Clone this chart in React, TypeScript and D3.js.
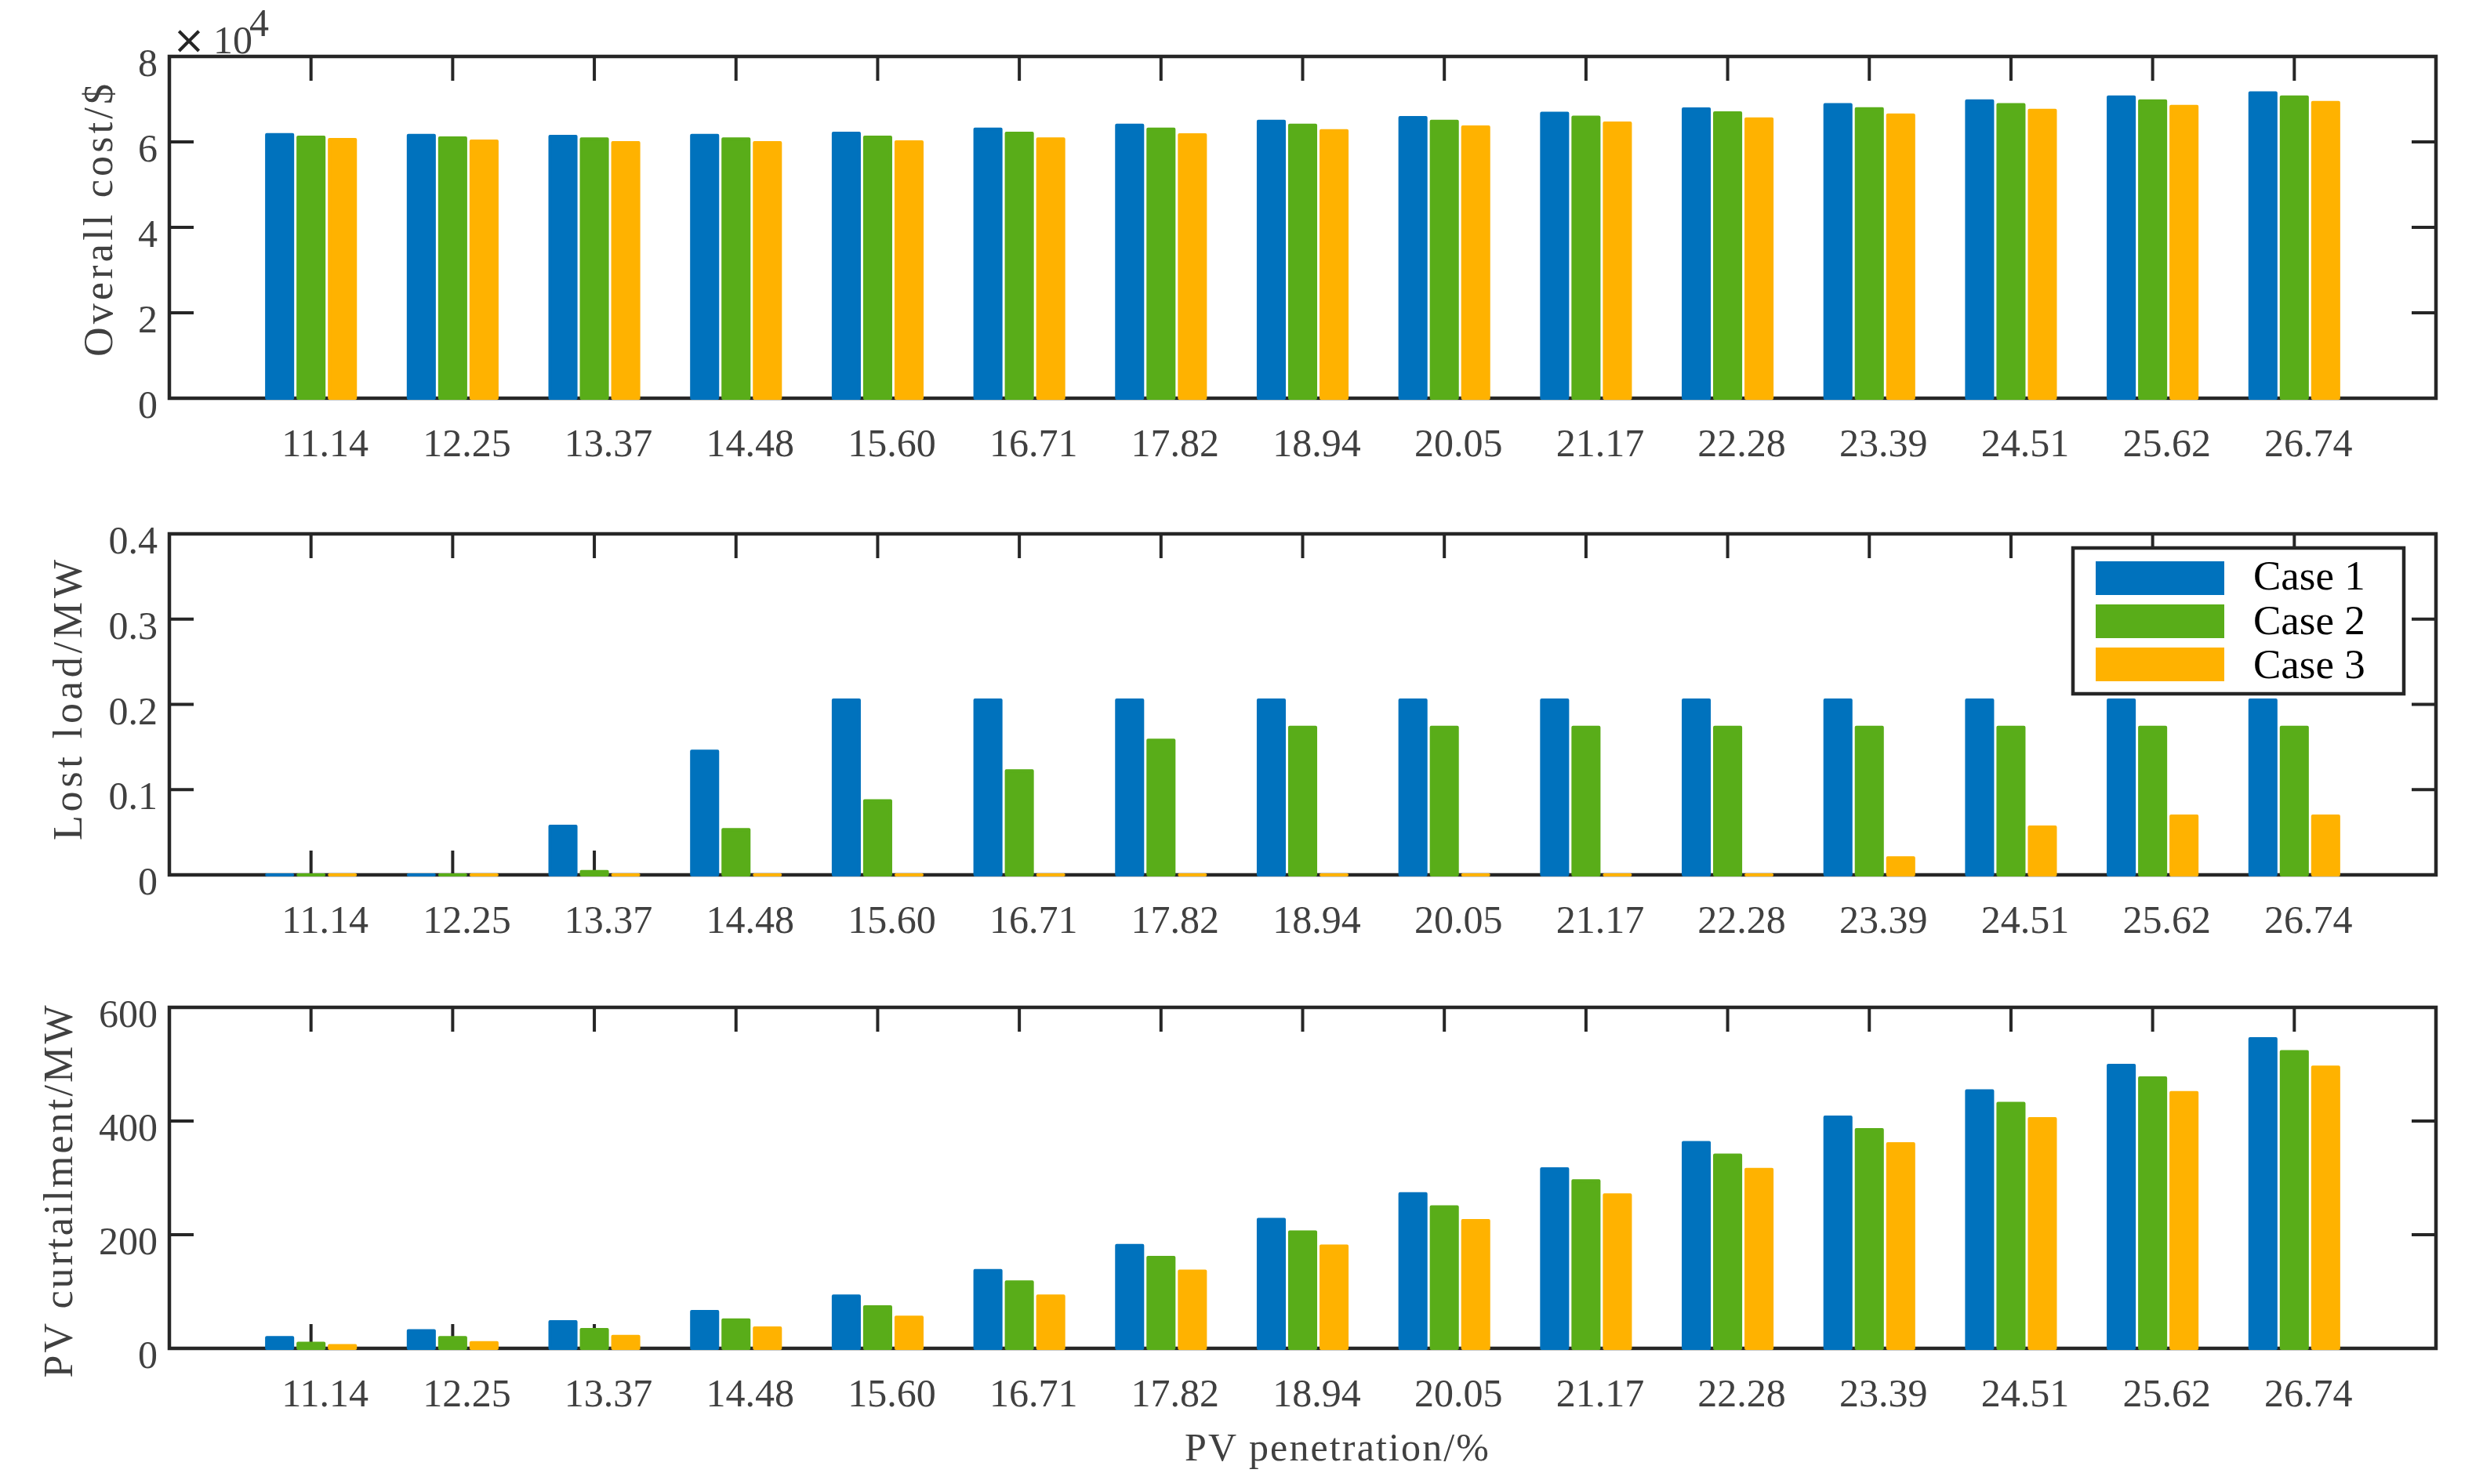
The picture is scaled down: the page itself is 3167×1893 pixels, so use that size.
import React from "react";
import * as d3 from "d3";

// ---------- data ----------
const categories = [
  "11.14", "12.25", "13.37", "14.48", "15.60", "16.71", "17.82", "18.94",
  "20.05", "21.17", "22.28", "23.39", "24.51", "25.62", "26.74",
];
const seriesNames = ["Case 1", "Case 2", "Case 3"];

// Overall cost ($)
const costCase1 = [61700, 61500, 61300, 61500, 62000, 63000, 63900, 64800, 65700, 66700, 67700, 68700, 69600, 70500, 71450];
const costCase2 = [61100, 60900, 60700, 60700, 61100, 62000, 63000, 63900, 64800, 65800, 66800, 67750, 68700, 69600, 70500];
const costCase3 = [60550, 60200, 59800, 59800, 60000, 60700, 61650, 62600, 63500, 64400, 65350, 66300, 67400, 68300, 69200];

// Lost load (MW)
const lostCase1 = [0, 0, 0.057, 0.145, 0.205, 0.205, 0.205, 0.205, 0.205, 0.205, 0.205, 0.205, 0.205, 0.205, 0.205];
const lostCase2 = [0, 0, 0.004, 0.053, 0.087, 0.122, 0.158, 0.173, 0.173, 0.173, 0.173, 0.173, 0.173, 0.173, 0.173];
const lostCase3 = [0, 0, 0, 0, 0, 0, 0, 0, 0, 0, 0, 0.02, 0.056, 0.069, 0.069];

// PV curtailment (MW)
const curtCase1 = [19, 31, 47, 65, 92, 137, 181, 227, 272, 316, 362, 407, 453, 498, 545];
const curtCase2 = [9, 19, 33, 50, 73, 117, 160, 205, 249, 295, 340, 385, 431, 476, 522];
const curtCase3 = [5, 10, 21, 36, 55, 92, 136, 180, 225, 270, 315, 360, 404, 450, 495];

const costTicks = [0, 20000, 40000, 60000, 80000];
const lostTicks = [0, 0.1, 0.2, 0.3, 0.4];
const curtTicks = [0, 200, 400, 600];

// ---------- style / layout ----------
const W = 3167;
const H = 1893;
const colors = ["#0072BD", "#59AD19", "#FFB200"];
const axisColor = "#262626";
const textColor = "#404040";
const font = "'Liberation Serif', 'Times New Roman', serif";
const plotLeft = 216;
const plotRight = 3107;
const tickLen = 31;
const barPitch = 0.2215; // in category units
const barFill = 0.183; // in category units (stroke adds visible width)
const barStroke = 4;

const panels = [
  {
    series: [costCase1, costCase2, costCase3],
    yMax: 80000,
    ticks: costTicks,
    fmt: (v: number) => String(v / 10000),
    top: 72,
    bottom: 508,
    label: "Overall cost/$",
    labelX: 143,
    labelY: 281,
    labelLen: 348,
  },
  {
    series: [lostCase1, lostCase2, lostCase3],
    yMax: 0.4,
    ticks: lostTicks,
    fmt: (v: number) => (v === 0 ? "0" : String(v)),
    top: 681,
    bottom: 1116,
    label: "Lost load/MW",
    labelX: 104,
    labelY: 893,
    labelLen: 358,
  },
  {
    series: [curtCase1, curtCase2, curtCase3],
    yMax: 600,
    ticks: curtTicks,
    fmt: (v: number) => String(v),
    top: 1285,
    bottom: 1720,
    label: "PV curtailment/MW",
    labelX: 92,
    labelY: 1520,
    labelLen: 475,
  },
];

const x = d3.scaleLinear().domain([0, categories.length + 1]).range([plotLeft, plotRight]);
const unit = x(1) - x(0);

function Panel({ p }: { p: (typeof panels)[number] }) {
  const y = d3.scaleLinear().domain([0, p.yMax]).range([p.bottom, p.top]);
  const nS = p.series.length;
  return (
    <g>
      {/* ticks (drawn beneath bars) */}
      {categories.map((c, i) => {
        const cx = x(i + 1);
        return (
          <g key={"xt" + c} stroke={axisColor} strokeWidth={4}>
            <line x1={cx} x2={cx} y1={p.top} y2={p.top + tickLen} />
            <line x1={cx} x2={cx} y1={p.bottom} y2={p.bottom - tickLen} />
          </g>
        );
      })}
      {p.ticks.map((t) => (
        <g key={"yt" + t} stroke={axisColor} strokeWidth={4}>
          <line x1={plotLeft} x2={plotLeft + tickLen} y1={y(t)} y2={y(t)} />
          <line x1={plotRight} x2={plotRight - tickLen} y1={y(t)} y2={y(t)} />
        </g>
      ))}
      {/* box */}
      <rect
        x={plotLeft}
        y={p.top}
        width={plotRight - plotLeft}
        height={p.bottom - p.top}
        fill="none"
        stroke={axisColor}
        strokeWidth={4.5}
      />
      {/* bars */}
      {p.series.map((vals, s) =>
        vals.map((v, i) => {
          const cx = x(i + 1 + (s - (nS - 1) / 2) * barPitch);
          const hw = (barFill * unit) / 2;
          const path = d3.path();
          path.moveTo(cx - hw, y(0));
          path.lineTo(cx - hw, y(v));
          path.lineTo(cx + hw, y(v));
          path.lineTo(cx + hw, y(0));
          path.closePath();
          return (
            <path
              key={`b${s}-${i}`}
              d={path.toString()}
              fill={colors[s]}
              stroke={colors[s]}
              strokeWidth={barStroke}
              strokeLinejoin="round"
            />
          );
        })
      )}
      {/* x tick labels */}
      {categories.map((c, i) => (
        <text
          key={"xl" + c}
          x={x(i + 1) + 18}
          y={p.bottom + 74}
          textAnchor="middle"
          fontSize={50}
          fill={textColor}
          fontFamily={font}
        >
          {c}
        </text>
      ))}
      {/* y tick labels */}
      {p.ticks.map((t) => (
        <text
          key={"yl" + t}
          x={201}
          y={y(t) + 25}
          textAnchor="end"
          fontSize={50}
          fill={textColor}
          fontFamily={font}
        >
          {p.fmt(t)}
        </text>
      ))}
      {/* y label */}
      <text
        transform={`translate(${p.labelX},${p.labelY}) rotate(-90)`}
        textAnchor="middle"
        fontSize={52}
        fill={textColor}
        fontFamily={font}
        textLength={p.labelLen}
        lengthAdjust="spacing"
      >
        {p.label}
      </text>
    </g>
  );
}

export default function App() {
  return (
    <svg
      width={W}
      height={H}
      viewBox={`0 0 ${W} ${H}`}
      style={{ position: "absolute", left: 0, top: 0, background: "#fff" }}
    >
      <rect x={0} y={0} width={W} height={H} fill="#fff" />
      {panels.map((p, i) => (
        <Panel key={i} p={p} />
      ))}
      {/* exponent */}
      <text x={220} y={68} fontSize={50} fill={axisColor} fontFamily="'DejaVu Sans', sans-serif">
        ×
      </text>
      <text x={272} y={68} fontSize={50} fill={textColor} fontFamily={font}>
        10
      </text>
      <text x={318} y={46} fontSize={50} fill={textColor} fontFamily={font}>
        4
      </text>
      {/* x label */}
      <text
        x={1705}
        y={1863}
        textAnchor="middle"
        fontSize={50}
        fill={textColor}
        fontFamily={font}
        textLength={388}
        lengthAdjust="spacing"
      >
        PV penetration/%
      </text>
      {/* legend */}
      <g>
        <rect x={2644} y={699} width={422} height={186} fill="#fff" stroke={axisColor} strokeWidth={4.5} />
        {seriesNames.map((n, i) => (
          <g key={n}>
            <rect x={2673} y={716 + i * 55} width={164} height={43} fill={colors[i]} />
            <text x={2874} y={752 + i * 56.5} fontSize={53} fill="#000" fontFamily={font}>
              {n}
            </text>
          </g>
        ))}
      </g>
    </svg>
  );
}
